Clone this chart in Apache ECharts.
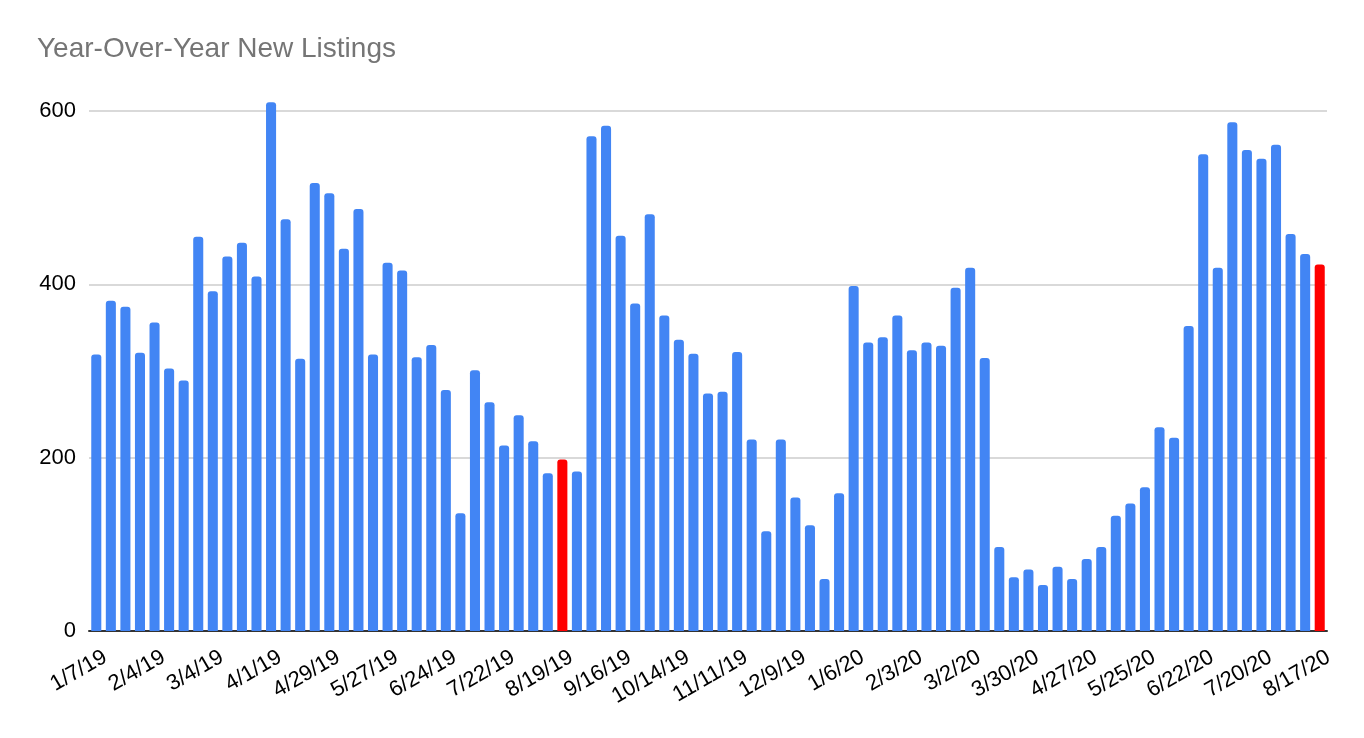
<!DOCTYPE html>
<html>
<head>
<meta charset="utf-8">
<script src="https://cdn.jsdelivr.net/npm/echarts@6/dist/echarts.min.js"></script>
<style>
  html, body { margin: 0; padding: 0; background: #fff; }
  #chart { width: 1364px; height: 738px; }
</style>
</head>
<body>
<div id="chart"></div>
<script>
// weekly dates, Jan 2019 – Aug 2020
const weeks = [
  '1/7/19', '1/14/19', '1/21/19', '1/28/19', '2/4/19', '2/11/19', '2/18/19', '2/25/19',
  '3/4/19', '3/11/19', '3/18/19', '3/25/19', '4/1/19', '4/8/19', '4/15/19', '4/22/19',
  '4/29/19', '5/6/19', '5/13/19', '5/20/19', '5/27/19', '6/3/19', '6/10/19', '6/17/19',
  '6/24/19', '7/1/19', '7/8/19', '7/15/19', '7/22/19', '7/29/19', '8/5/19', '8/12/19',
  '8/19/19', '8/26/19', '9/2/19', '9/9/19', '9/16/19', '9/23/19', '9/30/19', '10/7/19',
  '10/14/19', '10/21/19', '10/28/19', '11/4/19', '11/11/19', '11/18/19', '11/25/19', '12/2/19',
  '12/9/19', '12/16/19', '12/23/19', '12/30/19', '1/6/20', '1/13/20', '1/20/20', '1/27/20',
  '2/3/20', '2/10/20', '2/17/20', '2/24/20', '3/2/20', '3/9/20', '3/16/20', '3/23/20',
  '3/30/20', '4/6/20', '4/13/20', '4/20/20', '4/27/20', '5/4/20', '5/11/20', '5/18/20',
  '5/25/20', '6/1/20', '6/8/20', '6/15/20', '6/22/20', '6/29/20', '7/6/20', '7/13/20',
  '7/20/20', '7/27/20', '8/3/20', '8/10/20', '8/17/20'
];

const newListings = [
  319, 381, 374, 321, 356, 303, 289, 455,
  392, 432, 448, 409, 610, 475, 314, 517,
  505, 441, 487, 319, 425, 416, 316, 330,
  278, 136, 301, 264, 214, 249, 219, 182,
  198, 184, 571, 583, 456, 378, 481, 364,
  336, 320, 274, 276, 322, 221, 115, 221,
  154, 122, 60, 159, 398, 333, 339, 364,
  324, 333, 329, 396, 419, 315, 97, 62,
  71, 53, 74, 60, 83, 97, 133, 147,
  166, 235, 223, 352, 550, 419, 587, 555,
  545, 561, 458, 435, 423
];

// weeks drawn in red
const highlighted = ['8/19/19', '8/17/20'];

const yTicks = [0, 200, 400, 600];

const FONT = '"Liberation Sans", Arial, Helvetica, sans-serif';
const BLUE = '#4285f4', RED = '#ff0000';

const chart = echarts.init(document.getElementById('chart'), null, { renderer: 'canvas' });

chart.setOption({
  backgroundColor: '#fff',
  animation: false,
  title: {
    text: 'Year-Over-Year New Listings',
    left: 32, top: 30,
    textStyle: { color: '#757575', fontFamily: FONT, fontSize: 28, fontWeight: 'normal' }
  },
  grid: { left: 89, right: 37, top: 111, bottom: 107, containLabel: false },
  xAxis: {
    type: 'category',
    data: weeks,
    axisLine: { lineStyle: { color: '#333', width: 2 } },
    axisTick: { show: false },
    axisLabel: {
      interval: 3, rotate: 30, margin: 17,
      verticalAlign: 'top',
      // sheets hangs the label's top-right corner just past the bar
      padding: [0, -4, 0, 0],
      color: '#000', fontFamily: FONT, fontSize: 22
    }
  },
  yAxis: {
    type: 'value',
    min: yTicks[0], max: yTicks[yTicks.length - 1], interval: 200,
    axisLine: { show: false },
    axisTick: { show: false },
    splitLine: { lineStyle: { color: '#cccccc', width: 1.5 } },
    axisLabel: { color: '#000', fontFamily: FONT, fontSize: 22, margin: 13 }
  },
  series: [{
    type: 'bar',
    clip: false,
    barWidth: '69%',
    data: newListings.map((v, i) => ({
      value: v,
      itemStyle: { color: highlighted.includes(weeks[i]) ? RED : BLUE }
    })),
    itemStyle: { borderRadius: [3, 3, 0, 0] }
  }]
});
</script>
</body>
</html>
